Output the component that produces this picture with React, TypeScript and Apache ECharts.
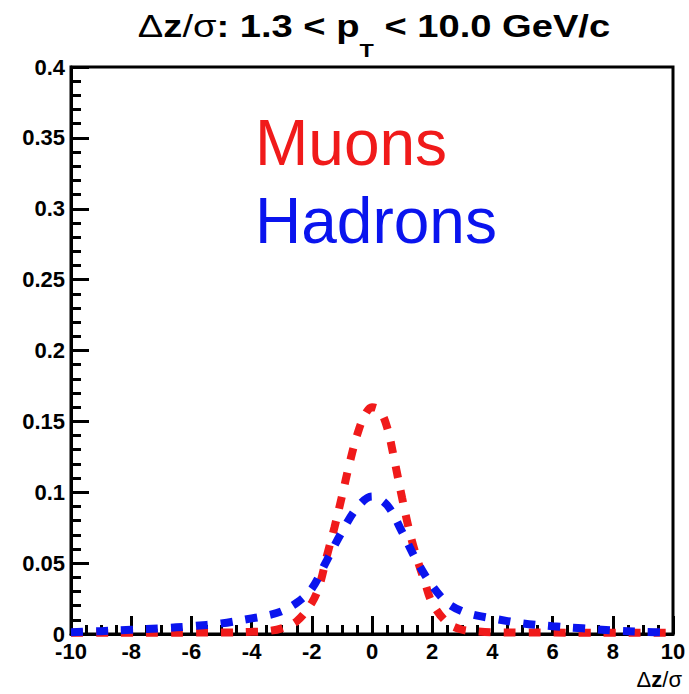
import React, { useEffect, useRef } from "react";
import * as echarts from "echarts";

// Δz/σ positions at which the distributions are sampled
const muonX = [-10, -9, -8, -7, -6, -5, -4, -3.5, -3, -2.5, -2, -1.75, -1.5, -1.25, -1, -0.75, -0.5, -0.25, 0, 0.25, 0.5, 0.75, 1, 1.25, 1.5, 1.75, 2, 2.5, 3, 3.5, 4, 5, 6, 7, 8, 9, 10];
const muonY = [0.0008, 0.0008, 0.0008, 0.0008, 0.001, 0.001, 0.0015, 0.002, 0.004, 0.009, 0.022, 0.034, 0.055, 0.075, 0.097, 0.12, 0.14, 0.154, 0.16, 0.158, 0.146, 0.122, 0.096, 0.072, 0.053, 0.037, 0.022, 0.008, 0.003, 0.0018, 0.0012, 0.001, 0.001, 0.0008, 0.0008, 0.0008, 0.0008];

const hadronX = [-10, -9, -8, -7, -6, -5, -4, -3.5, -3, -2.5, -2, -1.5, -1, -0.5, 0, 0.5, 1, 1.5, 2, 2.5, 3, 3.5, 4, 5, 6, 7, 8, 9, 10];
const hadronY = [0.0012, 0.002, 0.003, 0.004, 0.0055, 0.0075, 0.011, 0.013, 0.016, 0.022, 0.032, 0.052, 0.072, 0.089, 0.097, 0.091, 0.072, 0.051, 0.034, 0.022, 0.016, 0.013, 0.011, 0.0075, 0.0055, 0.004, 0.0025, 0.0015, 0.001];

const seriesNames = ["Muons", "Hadrons"];
const seriesColors = ["#f01a1a", "#0a14ee"];

const FONT = "'Liberation Sans', Arial, Helvetica, sans-serif";

function pairs(xs: number[], ys: number[]) {
  return xs.map((x, i) => [x, ys[i]]);
}

export default function App() {
  const ref = useRef<HTMLDivElement>(null);

  useEffect(() => {
    if (!ref.current) return;
    const chart = echarts.init(ref.current, undefined, { renderer: "svg" });

    const lineSeries = (name: string, color: string, data: number[][]) => ({
      name,
      type: "line",
      data,
      smooth: 0.35,
      showSymbol: false,
      clip: true,
      lineStyle: { color, width: 8, type: [12, 13], cap: "butt" },
    });

    const axisStroke = { color: "#000", width: 3 };
    const tickLabel = { color: "#000", fontFamily: FONT, fontSize: 22, fontWeight: "bold" };

    chart.setOption({
      animation: false,
      backgroundColor: "#ffffff",
      grid: {
        left: 71,
        right: 16,
        top: 67,
        bottom: 60,
        show: true,
        borderColor: "#000",
        borderWidth: 3,
        backgroundColor: "transparent",
      },
      xAxis: {
        type: "value",
        min: -10,
        max: 10,
        interval: 2,
        axisLine: { show: true, onZero: false, lineStyle: axisStroke },
        axisTick: { show: true, inside: true, length: 18, lineStyle: axisStroke },
        minorTick: { show: true, splitNumber: 4, length: 9, lineStyle: axisStroke },
        splitLine: { show: false },
        axisLabel: { margin: 8, lineHeight: 18, ...tickLabel },
      },
      yAxis: {
        type: "value",
        min: 0,
        max: 0.4,
        interval: 0.05,
        axisLine: { show: true, onZero: false, lineStyle: axisStroke },
        axisTick: { show: true, inside: true, length: 18, lineStyle: axisStroke },
        minorTick: { show: true, splitNumber: 5, length: 10, lineStyle: axisStroke },
        splitLine: { show: false },
        axisLabel: { margin: 6, lineHeight: 16, ...tickLabel },
      },
      graphic: [
        {
          // plot title, with p_T subscript; glyphs widened horizontally
          type: "text",
          x: 374,
          y: 11,
          scaleX: 1.23,
          style: {
            text: "{n|Δ}{b|z}{n|/σ}{b|: 1.3 < p}{sub|T}{b| < 10.0 GeV/c}",
            align: "center",
            verticalAlign: "top",
            rich: {
              n: { fontFamily: FONT, fontSize: 31, fontWeight: "normal", fill: "#000", lineHeight: 34, verticalAlign: "top" },
              b: { fontFamily: FONT, fontSize: 31, fontWeight: "bold", fill: "#000", lineHeight: 34, verticalAlign: "top" },
              sub: { fontFamily: FONT, fontSize: 19, fontWeight: "bold", fill: "#000", lineHeight: 19, padding: [30, 0, 0, 0], verticalAlign: "top" },
            },
          },
        },
        {
          // x-axis title
          type: "text",
          right: 7,
          top: 668,
          style: {
            text: "{n|Δ}{b|z}{n|/σ}",
            rich: {
              n: { fontFamily: FONT, fontSize: 22, fontWeight: "normal", fill: "#000" },
              b: { fontFamily: FONT, fontSize: 22, fontWeight: "bold", fill: "#000" },
            },
          },
        },
        {
          type: "text",
          left: 255,
          top: 111,
          style: { text: seriesNames[0], fontFamily: FONT, fontSize: 64, fill: seriesColors[0] },
        },
        {
          type: "text",
          left: 255,
          top: 189,
          style: { text: seriesNames[1], fontFamily: FONT, fontSize: 64, fill: seriesColors[1] },
        },
      ],
      series: [
        lineSeries(seriesNames[0], seriesColors[0], pairs(muonX, muonY)),
        lineSeries(seriesNames[1], seriesColors[1], pairs(hadronX, hadronY)),
      ],
    });

    return () => chart.dispose();
  }, []);

  return (
    <div
      ref={ref}
      style={{ position: "fixed", left: 0, top: 0, width: 689, height: 694, background: "#fff" }}
    />
  );
}
